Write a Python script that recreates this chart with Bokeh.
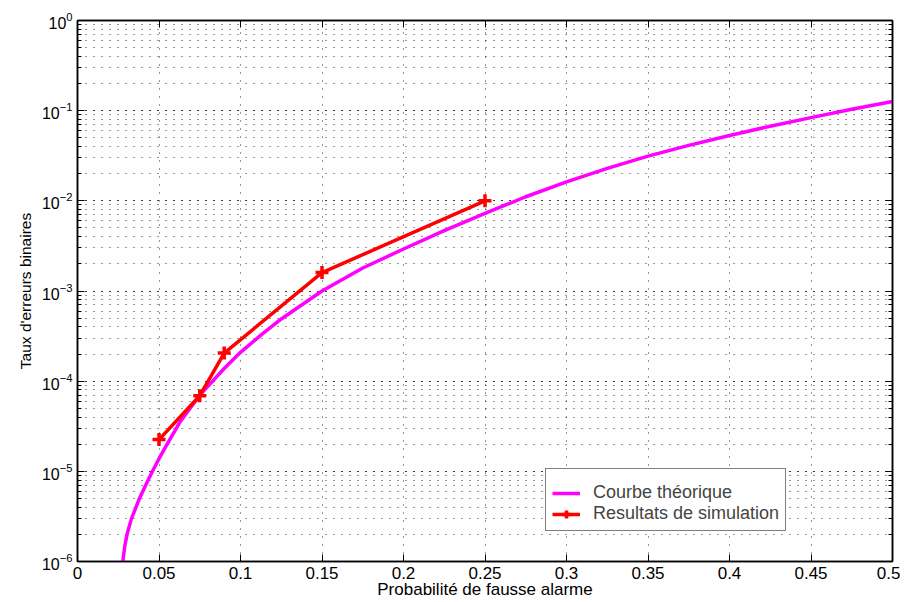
from bokeh.plotting import figure
from bokeh.models import (FixedTicker, LogTicker, LinearAxis, LogAxis, Range1d,
                          Legend, LegendItem, CustomJSTickFormatter)
from bokeh.embed import file_html
from bokeh.resources import INLINE

# Theoretical curve
theo_x = [0.0278, 0.029, 0.0305, 0.033, 0.038, 0.043, 0.046, 0.05, 0.055, 0.063,
          0.075, 0.09, 0.1, 0.1125, 0.125, 0.15, 0.175, 0.2, 0.225, 0.25, 0.275,
          0.3, 0.325, 0.35, 0.375, 0.4, 0.425, 0.45, 0.475, 0.5]
theo_y = [1.0e-6, 1.48e-6, 2.04e-6, 2.95e-6, 5.0e-6, 7.76e-6, 1.0e-5, 1.38e-5,
          2.0e-5, 3.55e-5, 7.0e-5, 1.38e-4, 2.09e-4, 3.24e-4, 4.9e-4, 1.0e-3,
          1.80e-3, 2.92e-3, 4.68e-3, 7.24e-3, 1.11e-2, 1.62e-2, 2.29e-2, 3.13e-2,
          4.12e-2, 5.31e-2, 6.73e-2, 8.37e-2, 0.1035, 0.1265]

# Simulation results
sim_x = [0.05, 0.075, 0.09, 0.15, 0.25]
sim_y = [2.25e-5, 6.9e-5, 2.05e-4, 1.6e-3, 1.0e-2]

x_ticks = [0, 0.05, 0.1, 0.15, 0.2, 0.25, 0.3, 0.35, 0.4, 0.45, 0.5]
x_tick_labels = ["0", "0.05", "0.1", "0.15", "0.2", "0.25", "0.3", "0.35", "0.4", "0.45", "0.5"]

label_theo = "Courbe théorique"
label_sim = "Resultats de simulation"
x_label = "Probabilité de fausse alarme"
y_label = "Taux d'erreurs binaires"

FONT = "Liberation Sans"

p = figure(width=900, height=602, y_axis_type="log",
           x_range=Range1d(0, 0.5), y_range=Range1d(1e-6, 1),
           output_backend="svg", toolbar_location=None,
           min_border_left=77, min_border_right=8, min_border_top=20,
           min_border_bottom=41)
p.background_fill_color = "white"
p.border_fill_color = "white"
p.outline_line_color = "black"
p.outline_line_width = 1.5

# axes
p.xaxis.ticker = FixedTicker(ticks=x_ticks)
p.xaxis.major_label_overrides = {t: l for t, l in zip(x_ticks, x_tick_labels)}
p.yaxis.ticker = LogTicker(num_minor_ticks=10)
for ax in [p.xaxis[0], p.yaxis[0]]:
    ax.axis_line_color = "black"
    ax.axis_line_width = 1.5
    ax.major_tick_in = 7
    ax.major_tick_out = 0
    ax.minor_tick_in = 4
    ax.minor_tick_out = 0
    ax.major_tick_line_color = "black"
    ax.minor_tick_line_color = "black"
    ax.major_label_text_font = FONT
    ax.major_label_text_color = "black"
    ax.axis_label_text_font = FONT
    ax.axis_label_text_font_style = "normal"
    ax.axis_label_text_color = "black"
p.xaxis.major_label_text_font_size = "17px"
p.yaxis.major_label_text_font_size = "16px"
p.xaxis.axis_label_text_font_size = "17px"
p.yaxis.axis_label_text_font_size = "15.5px"
p.xaxis.minor_tick_line_color = None
p.xaxis.major_label_standoff = 5
p.xaxis.axis_label_standoff = -2
p.yaxis.major_label_standoff = 5
p.yaxis.axis_label_standoff = 5
p.xaxis.axis_label = x_label
p.yaxis.axis_label = y_label

blank = CustomJSTickFormatter(code="return ''")
top = LinearAxis(ticker=FixedTicker(ticks=x_ticks), formatter=blank,
                 major_tick_in=7, major_tick_out=0, minor_tick_line_color=None,
                 major_label_standoff=0, axis_line_width=1.5)
p.add_layout(top, "above")
right = LogAxis(ticker=LogTicker(num_minor_ticks=10), formatter=blank,
                major_tick_in=7, major_tick_out=0, minor_tick_in=4, minor_tick_out=0,
                major_label_standoff=0, axis_line_width=1.5)
p.add_layout(right, "right")

# grid
p.xgrid.ticker = FixedTicker(ticks=x_ticks)
p.xgrid.grid_line_color = "black"
p.xgrid.grid_line_dash = "1 7"
p.xgrid.grid_line_alpha = 0.8
p.ygrid.grid_line_color = "black"
p.ygrid.grid_line_dash = "1 7"
p.ygrid.grid_line_alpha = 0.8
p.ygrid.minor_grid_line_color = "black"
p.ygrid.minor_grid_line_dash = "1 7"
p.ygrid.minor_grid_line_alpha = 0.8

r1 = p.line(theo_x, theo_y, line_color="magenta", line_width=3.5, line_join="round")
r2 = p.line(sim_x, sim_y, line_color="red", line_width=3.5)
r3 = p.scatter(sim_x, sim_y, marker="cross", size=13, line_color="red", line_width=3.5)

legend = Legend(items=[LegendItem(label=label_theo, renderers=[r1]),
                       LegendItem(label=label_sim, renderers=[r2, r3])],
                location=(468, 30), title=" ")
legend.title_text_font_size = "7px"
legend.title_standoff = 0
legend.margin = 0
legend.padding = 6
legend.spacing = 0
legend.label_text_font = FONT
legend.label_text_font_size = "18px"
legend.label_height = 20
legend.glyph_height = 20
legend.glyph_width = 28
legend.label_standoff = 13
legend.border_line_color = "black"
legend.border_line_width = 1
legend.background_fill_alpha = 1
p.add_layout(legend, "center")

open("out.html", "w").write(file_html(p, INLINE))
